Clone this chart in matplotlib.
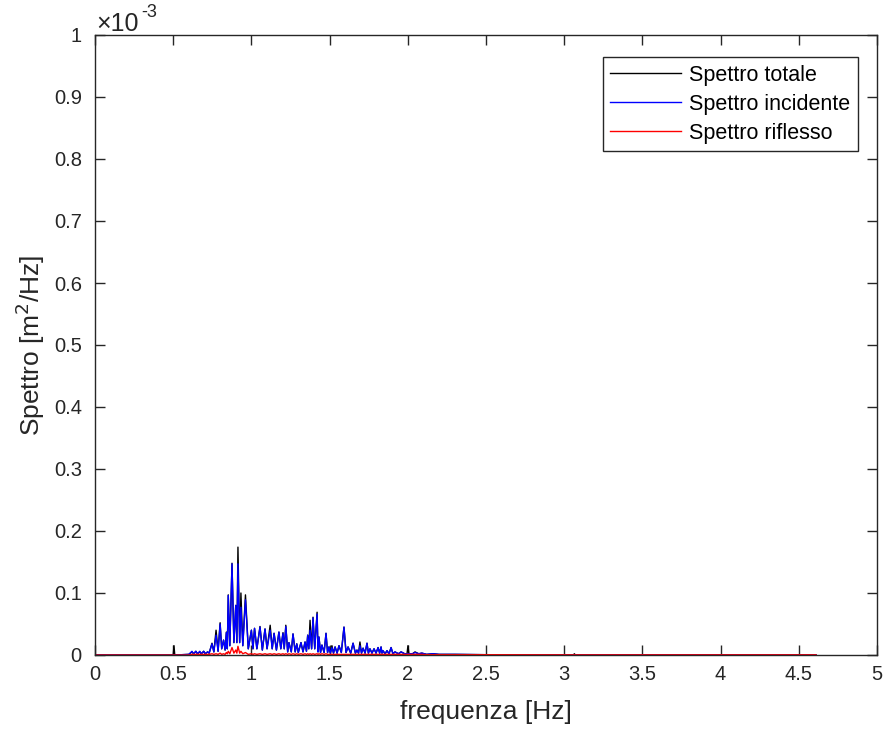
import matplotlib
matplotlib.use("Agg")
import matplotlib.pyplot as plt
from matplotlib.ticker import FuncFormatter, MultipleLocator
import numpy as np

plt.rcParams['font.family'] = ['Liberation Sans', 'DejaVu Sans']

# Frequency grid [Hz]
freq = [0.0, 0.50, 0.505, 0.51, 0.60, 0.62, 0.63, 0.645, 0.655, 0.67, 0.68, 0.695, 0.705, 0.72, 0.73,
        0.748, 0.76, 0.774, 0.787, 0.80, 0.81, 0.822, 0.832, 0.84, 0.846, 0.852, 0.862, 0.876, 0.888,
        0.90, 0.907, 0.914, 0.925, 0.933, 0.945, 0.962, 0.98, 1.0, 1.01, 1.02, 1.035, 1.055, 1.07,
        1.087, 1.10, 1.12, 1.133, 1.145, 1.16, 1.176, 1.188, 1.202, 1.21, 1.22, 1.232, 1.24, 1.255,
        1.266, 1.28, 1.29, 1.30, 1.317, 1.33, 1.343, 1.352, 1.36, 1.367, 1.375, 1.385, 1.394, 1.405,
        1.42, 1.426, 1.432, 1.442, 1.451, 1.465, 1.477, 1.487, 1.496, 1.505, 1.515, 1.525, 1.535,
        1.548, 1.56, 1.575, 1.592, 1.605, 1.618, 1.635, 1.65, 1.665, 1.675, 1.685, 1.694, 1.704,
        1.714, 1.727, 1.739, 1.748, 1.758, 1.771, 1.784, 1.797, 1.81, 1.82, 1.829, 1.835, 1.841,
        1.855, 1.867, 1.88, 1.893, 1.905, 1.918, 1.94, 1.957, 1.98, 1.995, 2.001, 2.007, 2.03,
        2.046, 2.07, 2.09, 2.12, 2.16, 2.2, 2.25, 2.3, 2.5, 3.06, 3.065, 3.07, 4.61]

# Total spectrum [x1e-3 m^2/Hz]
total = [0.0, 0.0, 0.015, 0.0, 0.001, 0.005, 0.002, 0.006, 0.002, 0.005, 0.002, 0.006, 0.002, 0.005, 0.003,
         0.019, 0.005, 0.040, 0.006, 0.052, 0.010, 0.024, 0.008, 0.037, 0.010, 0.097, 0.015, 0.148, 0.020,
         0.080, 0.020, 0.174, 0.020, 0.100, 0.015, 0.097, 0.010, 0.040, 0.010, 0.043, 0.010, 0.046, 0.008,
         0.042, 0.010, 0.048, 0.010, 0.035, 0.008, 0.037, 0.010, 0.036, 0.010, 0.048, 0.005, 0.020, 0.005,
         0.034, 0.005, 0.018, 0.004, 0.020, 0.005, 0.021, 0.006, 0.032, 0.010, 0.056, 0.010, 0.061, 0.010,
         0.069, 0.005, 0.029, 0.004, 0.016, 0.004, 0.035, 0.004, 0.013, 0.003, 0.015, 0.003, 0.013,
         0.003, 0.015, 0.004, 0.045, 0.004, 0.013, 0.003, 0.019, 0.003, 0.008, 0.003, 0.021, 0.003,
         0.011, 0.003, 0.019, 0.003, 0.010, 0.003, 0.010, 0.003, 0.012, 0.003, 0.013, 0.003, 0.007,
         0.002, 0.007, 0.002, 0.012, 0.002, 0.005, 0.002, 0.005, 0.002, 0.002, 0.015, 0.002, 0.002,
         0.005, 0.002, 0.003, 0.001, 0.002, 0.001, 0.001, 0.001, 0.0005, 0.0003, 0.002, 0.0003, 0.0]

# Incident spectrum [x1e-3 m^2/Hz]
incident = [0.0, 0.0, 0.0, 0.0, 0.001, 0.006, 0.002, 0.006, 0.002, 0.006, 0.002, 0.006, 0.002, 0.005, 0.003,
            0.018, 0.005, 0.032, 0.006, 0.050, 0.010, 0.024, 0.008, 0.036, 0.010, 0.096, 0.015, 0.147, 0.020,
            0.080, 0.020, 0.147, 0.020, 0.077, 0.015, 0.089, 0.010, 0.040, 0.010, 0.043, 0.010, 0.045, 0.008,
            0.042, 0.010, 0.040, 0.010, 0.035, 0.008, 0.037, 0.010, 0.035, 0.010, 0.046, 0.005, 0.020, 0.005,
            0.034, 0.005, 0.018, 0.004, 0.020, 0.005, 0.021, 0.006, 0.032, 0.010, 0.040, 0.010, 0.060, 0.010,
            0.066, 0.005, 0.029, 0.004, 0.016, 0.004, 0.035, 0.004, 0.013, 0.003, 0.012, 0.003, 0.013,
            0.003, 0.015, 0.004, 0.045, 0.004, 0.013, 0.003, 0.019, 0.003, 0.008, 0.003, 0.015, 0.003,
            0.011, 0.003, 0.019, 0.003, 0.010, 0.003, 0.010, 0.003, 0.012, 0.003, 0.013, 0.003, 0.007,
            0.002, 0.007, 0.002, 0.012, 0.002, 0.005, 0.002, 0.005, 0.002, 0.002, 0.002, 0.002, 0.002,
            0.004, 0.002, 0.003, 0.001, 0.002, 0.001, 0.001, 0.001, 0.0005, 0.0003, 0.0003, 0.0003, 0.0]

# Reflected spectrum [x1e-3 m^2/Hz]
reflected = [0.0, 0.0, 0.0, 0.0, 0.0, 0.001, 0.001, 0.001, 0.001, 0.001, 0.001, 0.001, 0.001, 0.001, 0.001,
             0.002, 0.001, 0.002, 0.001, 0.003, 0.001, 0.002, 0.001, 0.004, 0.002, 0.006, 0.002, 0.012, 0.003,
             0.008, 0.003, 0.014, 0.003, 0.006, 0.002, 0.004, 0.001, 0.002, 0.001, 0.002, 0.001, 0.002, 0.001,
             0.002, 0.001, 0.002, 0.001, 0.002, 0.001, 0.002, 0.001, 0.002, 0.001, 0.002, 0.001, 0.002, 0.001,
             0.002, 0.001, 0.002, 0.001, 0.002, 0.001, 0.002, 0.001, 0.002, 0.001, 0.002, 0.001, 0.002, 0.001,
             0.002, 0.001, 0.002, 0.001, 0.002, 0.001, 0.002, 0.001, 0.001, 0.001, 0.001, 0.001, 0.001,
             0.001, 0.001, 0.001, 0.001, 0.001, 0.001, 0.001, 0.001, 0.001, 0.001, 0.001, 0.001, 0.001,
             0.001, 0.001, 0.001, 0.001, 0.001, 0.001, 0.001, 0.001, 0.001, 0.001, 0.001, 0.001, 0.001,
             0.001, 0.001, 0.001, 0.001, 0.001, 0.001, 0.001, 0.001, 0.001, 0.001, 0.001, 0.001, 0.001,
             0.001, 0.001, 0.001, 0.0005, 0.0005, 0.0005, 0.0005, 0.0005, 0.0005, 0.0003, 0.0003, 0.0003, 0.0003]

series_names = ["Spettro totale", "Spettro incidente", "Spettro riflesso"]
scale = 1e-3

W, H = 886, 729
axis_col = (0.15, 0.15, 0.15)
fig = plt.figure(figsize=(W / 100, H / 100), dpi=100)
ax = fig.add_axes([95 / W, 74 / H, 782 / W, 620 / H])

f = np.array(freq)
ax.plot(f, np.array(total) * scale, color='k', lw=1.0, label=series_names[0])
ax.plot(f, np.array(incident) * scale, color=(0, 0, 1), lw=1.0, label=series_names[1])
ax.plot(f, np.array(reflected) * scale, color=(1, 0, 0), lw=1.0, label=series_names[2])

ax.set_xlim(0, 5)
ax.set_ylim(0, 1e-3)
ax.xaxis.set_major_locator(MultipleLocator(0.5))
ax.yaxis.set_major_locator(MultipleLocator(1e-4))
ax.xaxis.set_major_formatter(FuncFormatter(lambda v, p: f"{v:g}"))
ax.yaxis.set_major_formatter(FuncFormatter(lambda v, p: f"{round(v * 1e3, 6):g}"))

ax.tick_params(direction='in', length=7, width=1.0, top=True, right=True,
               labelsize=14.5, colors=axis_col)
ax.tick_params(axis='y', pad=9.5)
ax.tick_params(axis='x', pad=7)
for s in ax.spines.values():
    s.set_color(axis_col)
    s.set_linewidth(1.0)

ax.set_xlabel("frequenza [Hz]", fontsize=19, color=axis_col, labelpad=12)
ax.set_ylabel("Spettro [m$^2$/Hz]", fontsize=19, color=axis_col, labelpad=5)

# exponent label above the y axis
ax.text(96 / W, 1 - 31 / H, "\u00d710", transform=fig.transFigure, fontsize=18,
        color=axis_col, ha='left', va='baseline')
ax.text(141 / W, 1 - 17 / H, "-3", transform=fig.transFigure, fontsize=13,
        color=axis_col, ha='left', va='baseline')

leg = ax.legend(loc='upper right', bbox_to_anchor=(858 / W, 1 - 57 / H),
                bbox_transform=fig.transFigure, borderaxespad=0,
                fontsize=15.5, frameon=True, fancybox=False,
                edgecolor=axis_col, handlelength=3.3,
                handletextpad=0.37, labelspacing=0.38, borderpad=0.35)
leg.get_frame().set_linewidth(1.0)
leg.get_frame().set_alpha(1.0)

fig.savefig("out.png", dpi=100)
